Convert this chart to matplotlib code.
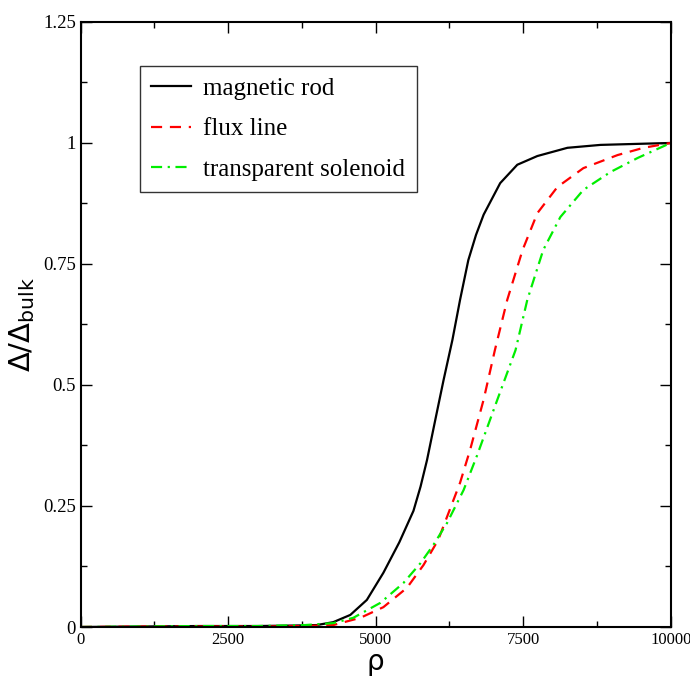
import matplotlib
matplotlib.use("Agg")
import matplotlib.pyplot as plt
from matplotlib.ticker import MultipleLocator

# values
rho_rod = [0, 1000, 2000, 3000, 3600, 4000, 4280, 4570, 4850, 5130, 5400, 5640, 5760, 5870,
           6010, 6150, 6300, 6430, 6570, 6700, 6830, 7110, 7400, 7740, 8250, 8810, 9400, 10000]
val_rod = [0, 0.001, 0.002, 0.002, 0.003, 0.004, 0.010, 0.025, 0.056, 0.112, 0.175, 0.24, 0.29, 0.345,
           0.428, 0.51, 0.593, 0.676, 0.758, 0.81, 0.852, 0.917, 0.955, 0.973, 0.99, 0.996, 0.998, 1.0]

rho_flux = [0, 1000, 2000, 3000, 3800, 4280, 4740, 5130, 5530, 5810, 6060, 6430, 6600,
            6830, 7020, 7230, 7490, 7740, 8080, 8520, 9100, 9540, 10000]
val_flux = [0, 0.001, 0.001, 0.001, 0.002, 0.004, 0.019, 0.041, 0.081, 0.128, 0.18, 0.298, 0.366,
            0.47, 0.572, 0.676, 0.779, 0.855, 0.909, 0.948, 0.975, 0.99, 1.0]

rho_sol = [0, 1000, 2000, 3000, 3800, 4280, 4620, 5080, 5470, 5760, 5980, 6210, 6490,
           6720, 7060, 7370, 7570, 7840, 8130, 8520, 8980, 9440, 10000]
val_sol = [0, 0.001, 0.002, 0.002, 0.004, 0.008, 0.019, 0.050, 0.091, 0.132, 0.17, 0.215, 0.283,
           0.355, 0.469, 0.572, 0.676, 0.779, 0.847, 0.903, 0.94, 0.969, 1.0]

labels = ["magnetic rod", "flux line", "transparent solenoid"]

plt.rcParams["font.family"] = "Liberation Serif"
plt.rcParams["mathtext.fontset"] = "dejavusans"

fig = plt.figure(figsize=(6.9, 6.86), dpi=100)
ax = fig.add_axes([0.117, 0.086, 0.855, 0.882])

ax.plot(rho_rod, val_rod, color="black", lw=1.6, label=labels[0])
ax.plot(rho_flux, val_flux, color="red", lw=1.6, dashes=(5, 3.5), label=labels[1])
ax.plot(rho_sol, val_sol, color="#00ee00", lw=1.6, dashes=(5, 2.5, 1, 2.5), label=labels[2])

ax.set_xlim(0, 10000)
ax.set_ylim(0, 1.25)
ax.xaxis.set_major_locator(MultipleLocator(2500))
ax.xaxis.set_minor_locator(MultipleLocator(1250))
ax.yaxis.set_minor_locator(MultipleLocator(0.125))
ax.set_yticks([0, 0.25, 0.5, 0.75, 1, 1.25])
ax.set_yticklabels(["0", "0.25", "0.5", "0.75", "1", "1.25"])
ax.tick_params(which="both", direction="in", top=True, right=True, width=1)
ax.tick_params(axis="y", labelsize=13.5)
ax.tick_params(axis="x", labelsize=12)
ax.tick_params(which="major", length=8)
ax.tick_params(which="minor", length=4)
for s in ax.spines.values():
    s.set_linewidth(1.5)

ax.set_xlabel("ρ", fontfamily="DejaVu Sans", fontsize=20, labelpad=0)
ax.set_ylabel(r"$\Delta/\Delta_{\rm bulk}$", fontsize=21, labelpad=4)

leg = ax.legend(loc="upper left", bbox_to_anchor=(0.1, 0.927), borderaxespad=0,
                fontsize=18, frameon=True, fancybox=False, handlelength=1.6,
                labelspacing=0.72, borderpad=0.45, handletextpad=0.5)
leg.get_frame().set_edgecolor("black")
leg.get_frame().set_linewidth(1.0)

fig.savefig("out.png", dpi=100)
